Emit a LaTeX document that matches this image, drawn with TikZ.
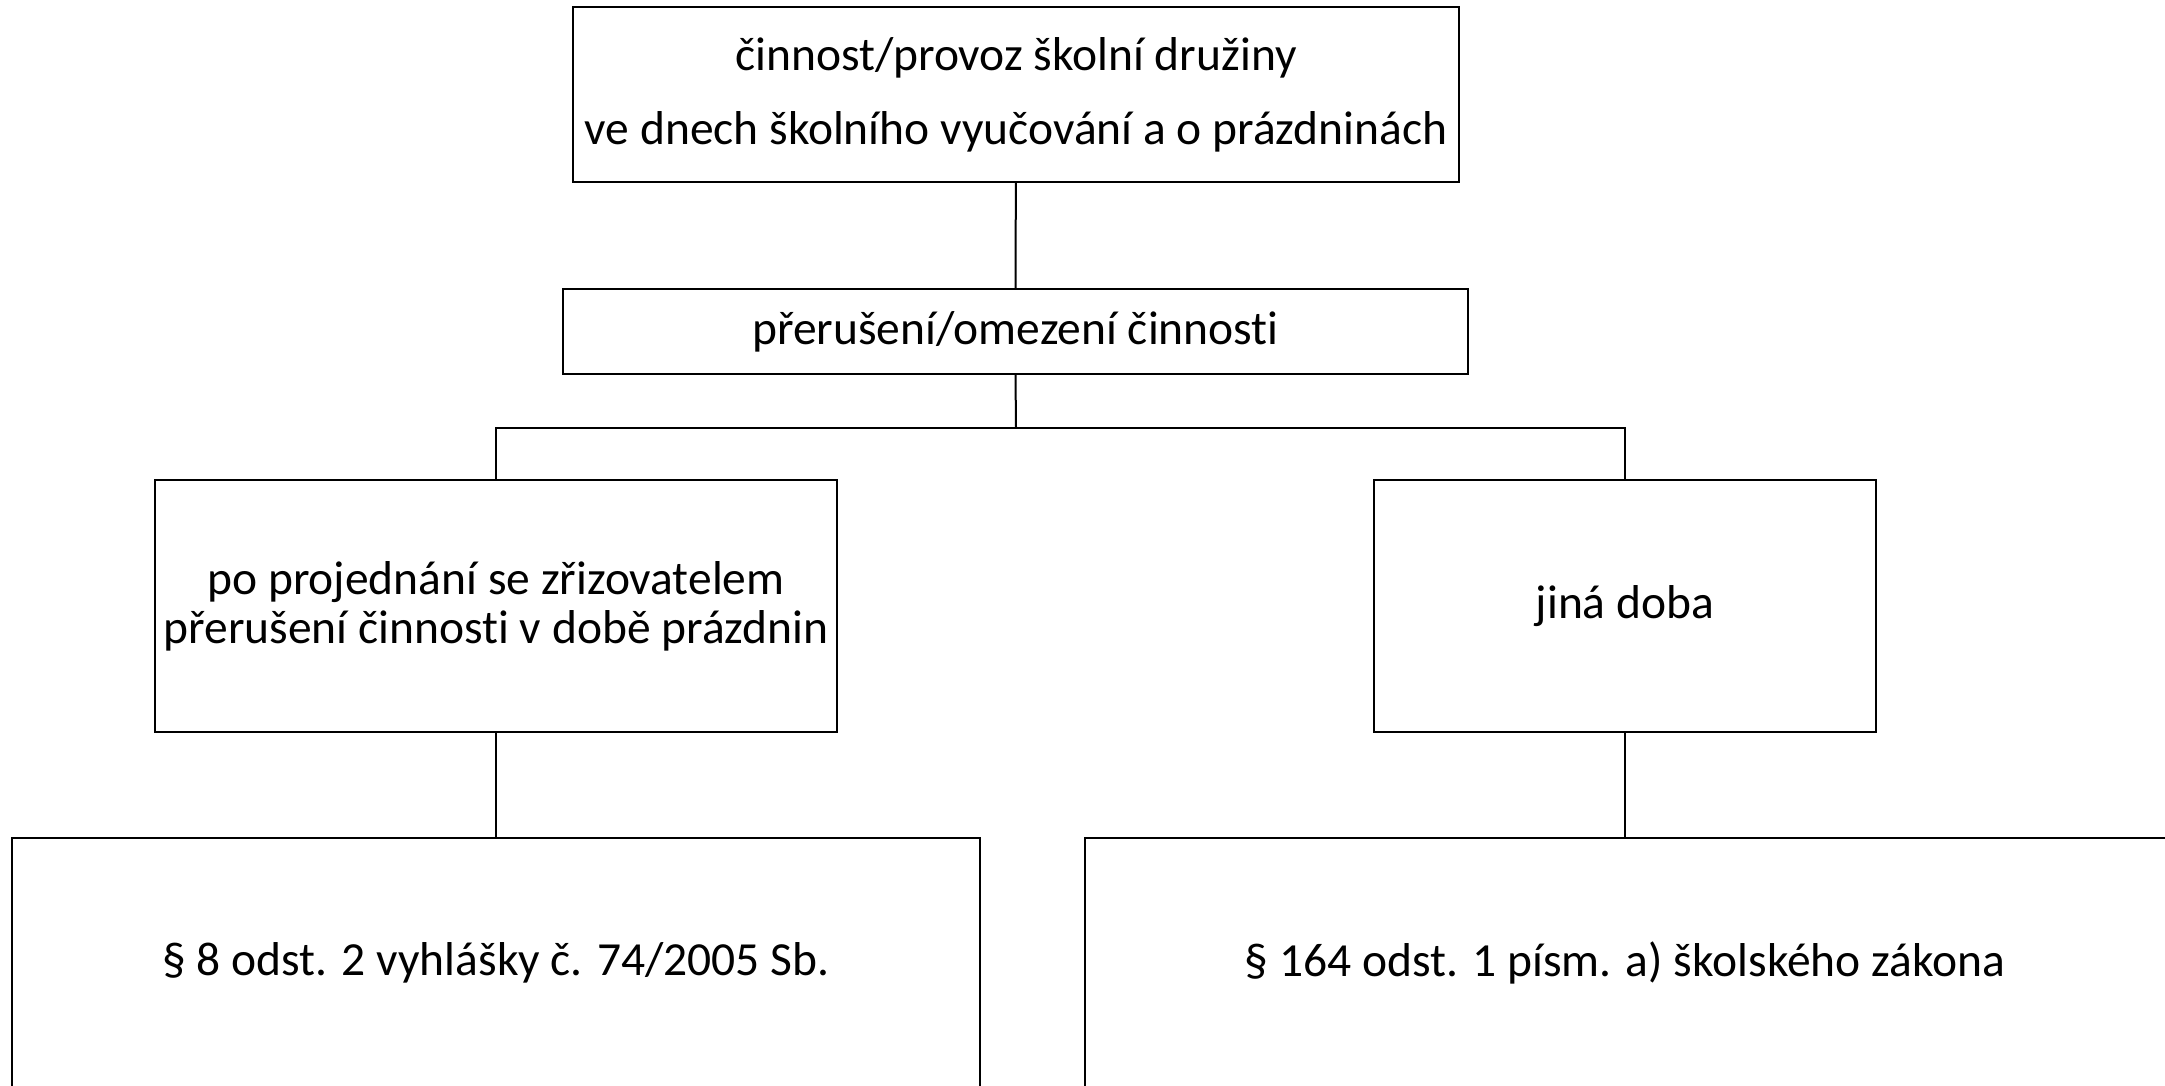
\documentclass[tikz,border=0pt]{standalone}
\usepackage{fontspec}
\setmainfont[Ligatures={NoCommon}]{Carlito}
\usetikzlibrary{positioning}
\tikzset{box/.style={draw, line width=2pt, align=center, inner sep=0pt, font=\fontsize{47.5}{49}\selectfont}}

\begin{document}
\begin{tikzpicture}[x=1pt,y=-1pt,line width=2pt]
\useasboundingbox (0,0) rectangle (2165,1085);
\clip (0,0) rectangle (2165,1085);
\node[box, minimum width=886pt, minimum height=175pt] (top) at (1016,94.5) {činnost/provoz školní družiny\\[25pt]ve dnech školního vyučování a o prázdninách};
\node[box, minimum width=905pt, minimum height=85pt] (mid) at (1015.5,331.5) {přerušení/omezení činnosti};
\node[box, minimum width=682pt, minimum height=252pt] (left) at (496,606) {po projednání se zřizovatelem\\přerušení činnosti v době prázdnin};
\node[box, minimum width=502pt, minimum height=252pt] (right) at (1625,606) {jiná doba};
\node[box, minimum width=968pt, minimum height=250pt] (bleft) at (496,963) {§ 8 odst. 2 vyhlášky č. 74/2005 Sb.};
\node[box, minimum width=1085pt, minimum height=250pt] (bright) at (1627.5,963) {};
\node[font=\fontsize{47.5}{49}\selectfont] (brighttext) at (1625,963) {§ 164 odst. 1 písm. a) školského zákona};
\coordinate (bus) at (1016,428);
\draw (top) -- (mid);
\draw (mid.south) -- (bus);
\draw (left.north) |- (bus) -| (right.north);
\draw (left) -- (bleft);
\draw (right.south) -- (right.south |- bright.north);
\end{tikzpicture}
\end{document}
